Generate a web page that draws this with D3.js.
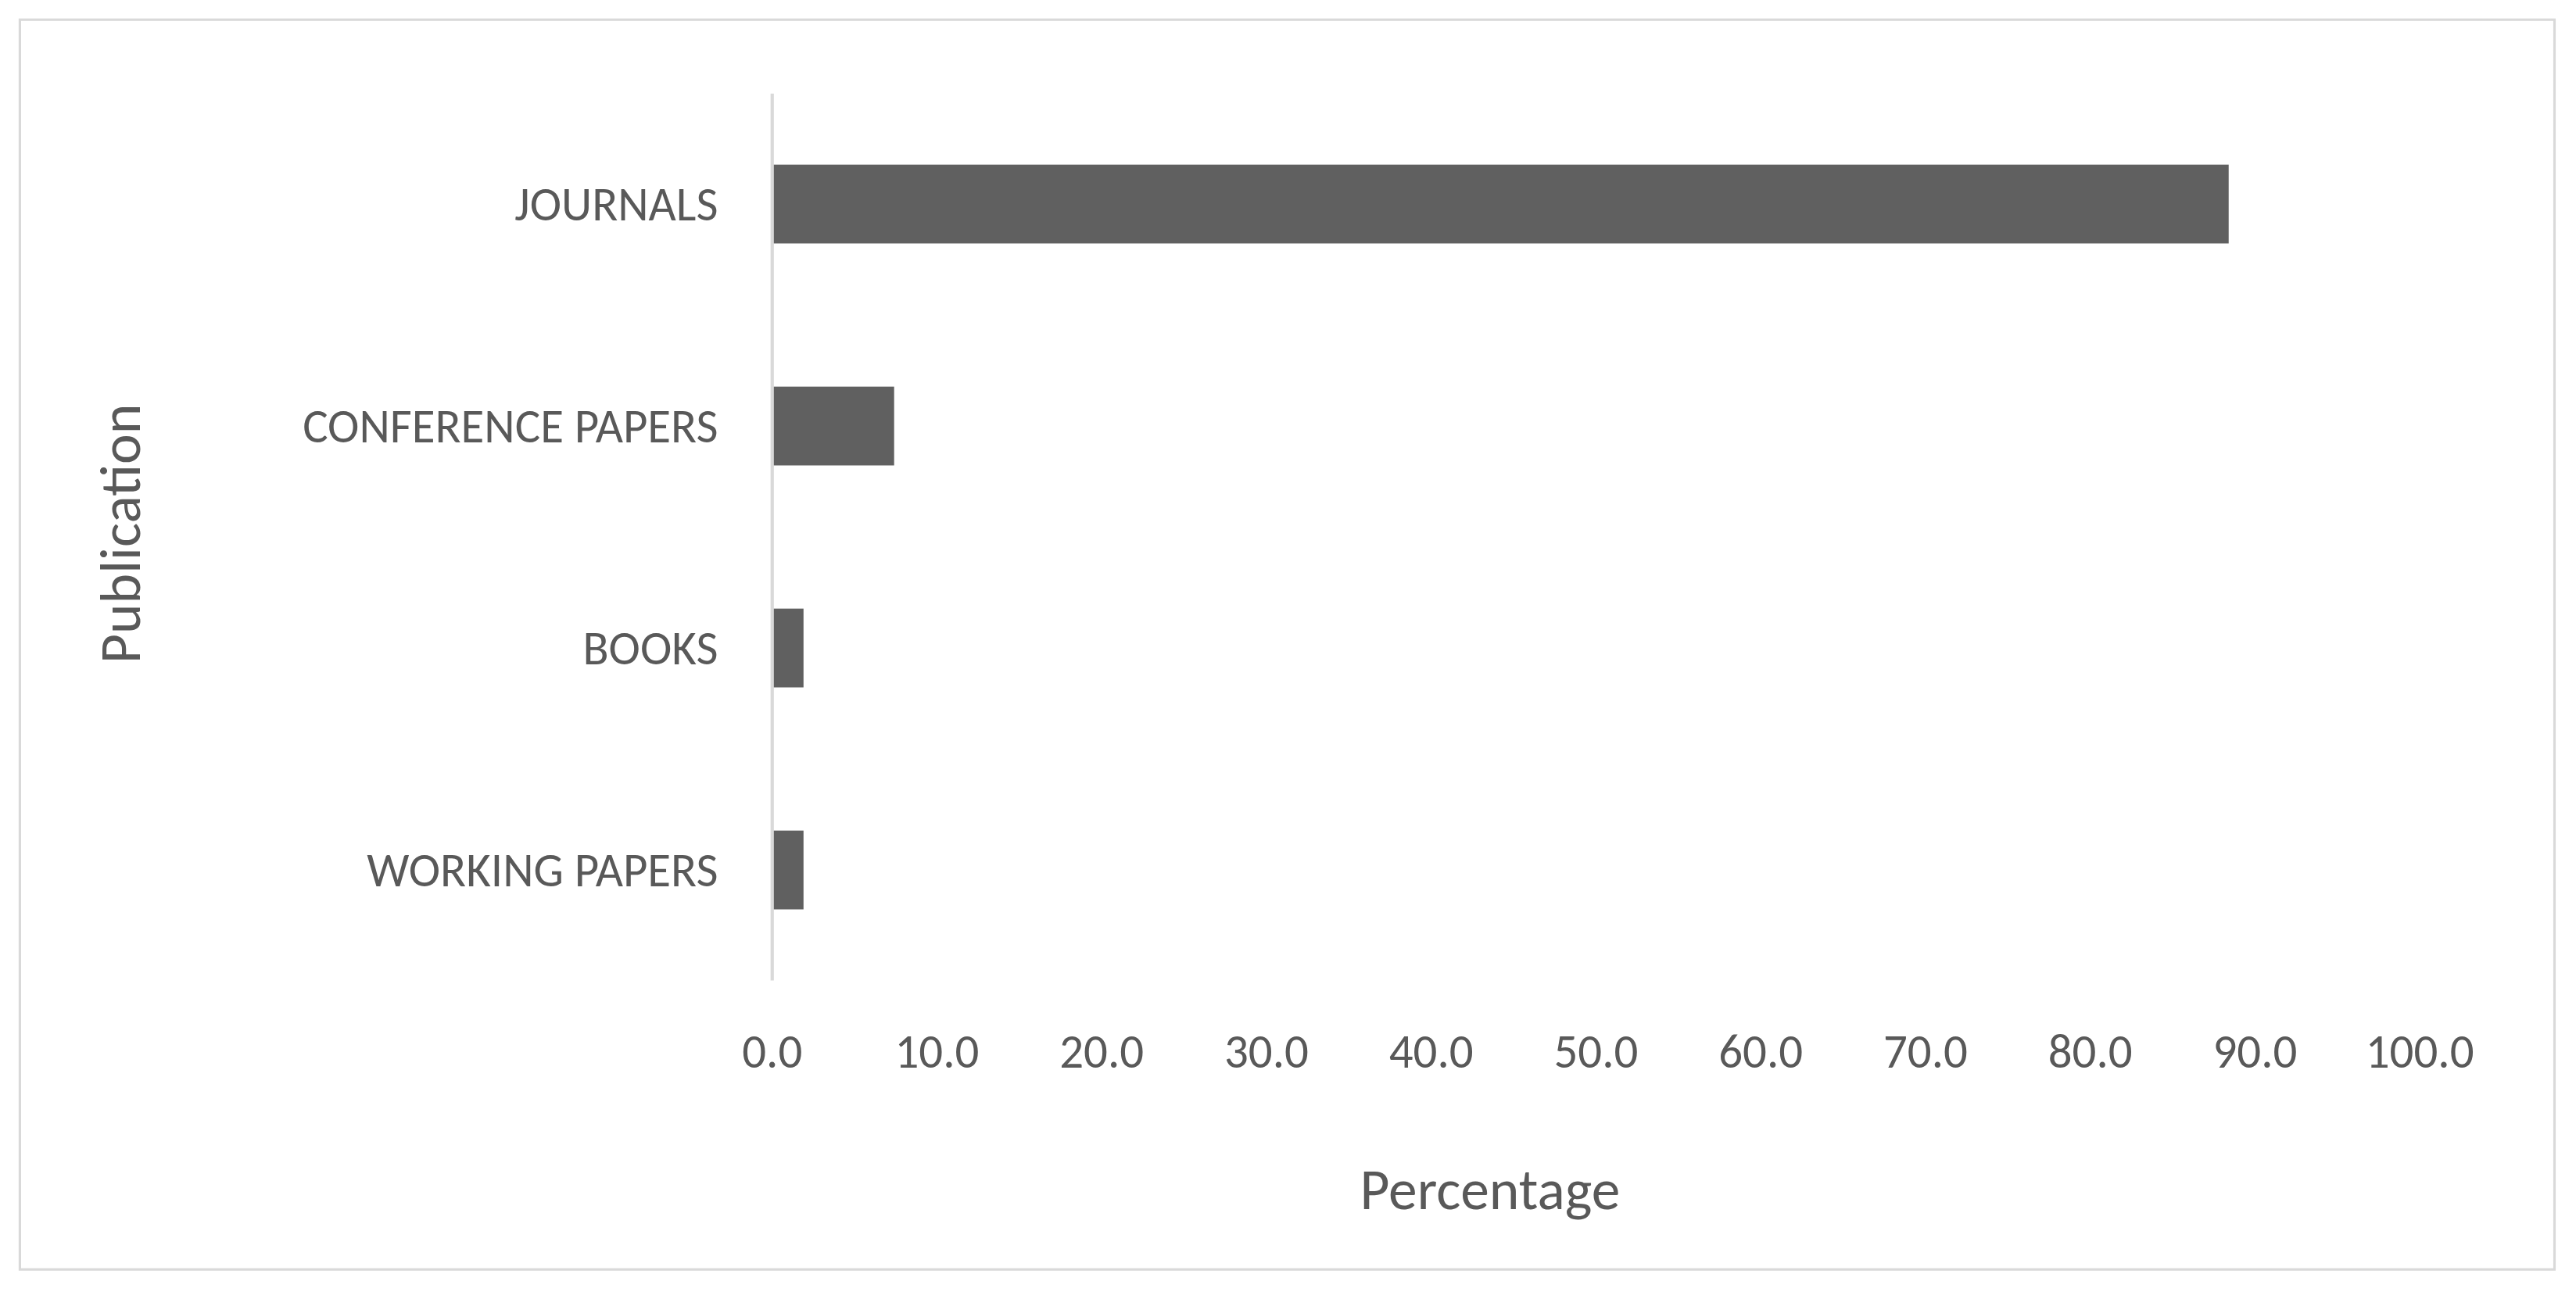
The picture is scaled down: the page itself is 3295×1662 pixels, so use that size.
<!DOCTYPE html>
<html><head><meta charset="utf-8">
<script src="https://cdn.jsdelivr.net/npm/d3@7"></script>
<style>html,body{margin:0;padding:0;background:#fff}</style>
</head><body>
<svg id="c" width="3295" height="1662" viewBox="0 0 1568 791"></svg>
<script>
const categories = ["JOURNALS","CONFERENCE PAPERS","BOOKS","WORKING PAPERS"];
const values = [88.4, 7.4, 1.9, 1.9];
const ticks = [0,10,20,30,40,50,60,70,80,90,100];

const svg = d3.select("#c");
const font = "Carlito, Calibri, 'Open Sans', sans-serif";
svg.append("rect").attr("x",12).attr("y",12).attr("width",1543).attr("height",761)
  .attr("fill","#fff").attr("stroke","#d9d9d9").attr("stroke-width",1.5);

const x = d3.scaleLinear().domain([0,100]).range([470,1473]);
const y = d3.scaleBand().domain(categories).range([57,597]).paddingInner(0.645).paddingOuter(0.32);

svg.selectAll(".bar").data(values).enter().append("rect")
  .attr("x",x(0)).attr("y",(d,i)=>y(categories[i]))
  .attr("width",d=>x(d)-x(0)).attr("height",y.bandwidth()).attr("fill","#606060");

svg.append("line").attr("x1",x(0)).attr("x2",x(0)).attr("y1",57).attr("y2",597)
  .attr("stroke","#d9d9d9").attr("stroke-width",2);

svg.selectAll(".cl").data(categories).enter().append("text")
  .attr("x",437).attr("y",d=>y(d)+y.bandwidth()/2).attr("dy","0.35em")
  .attr("text-anchor","end").attr("fill","#595959").attr("font-family",font).attr("font-size",29)
  .text(d=>d);

svg.selectAll(".tl").data(ticks).enter().append("text")
  .attr("x",d=>x(d)).attr("y",640).attr("dy","0.35em").attr("text-anchor","middle")
  .attr("fill","#595959").attr("font-family",font).attr("font-size",29)
  .text(d=>d3.format(".1f")(d));

svg.append("text").attr("x",907).attr("y",724).attr("dy","0.35em").attr("text-anchor","middle")
  .attr("fill","#595959").attr("font-family",font).attr("font-size",35).text("Percentage");
svg.append("text").attr("transform","translate(73,325) rotate(-90)").attr("dy","0.35em")
  .attr("text-anchor","middle").attr("fill","#595959").attr("font-family",font).attr("font-size",35)
  .text("Publication");
</script>
</body></html>
